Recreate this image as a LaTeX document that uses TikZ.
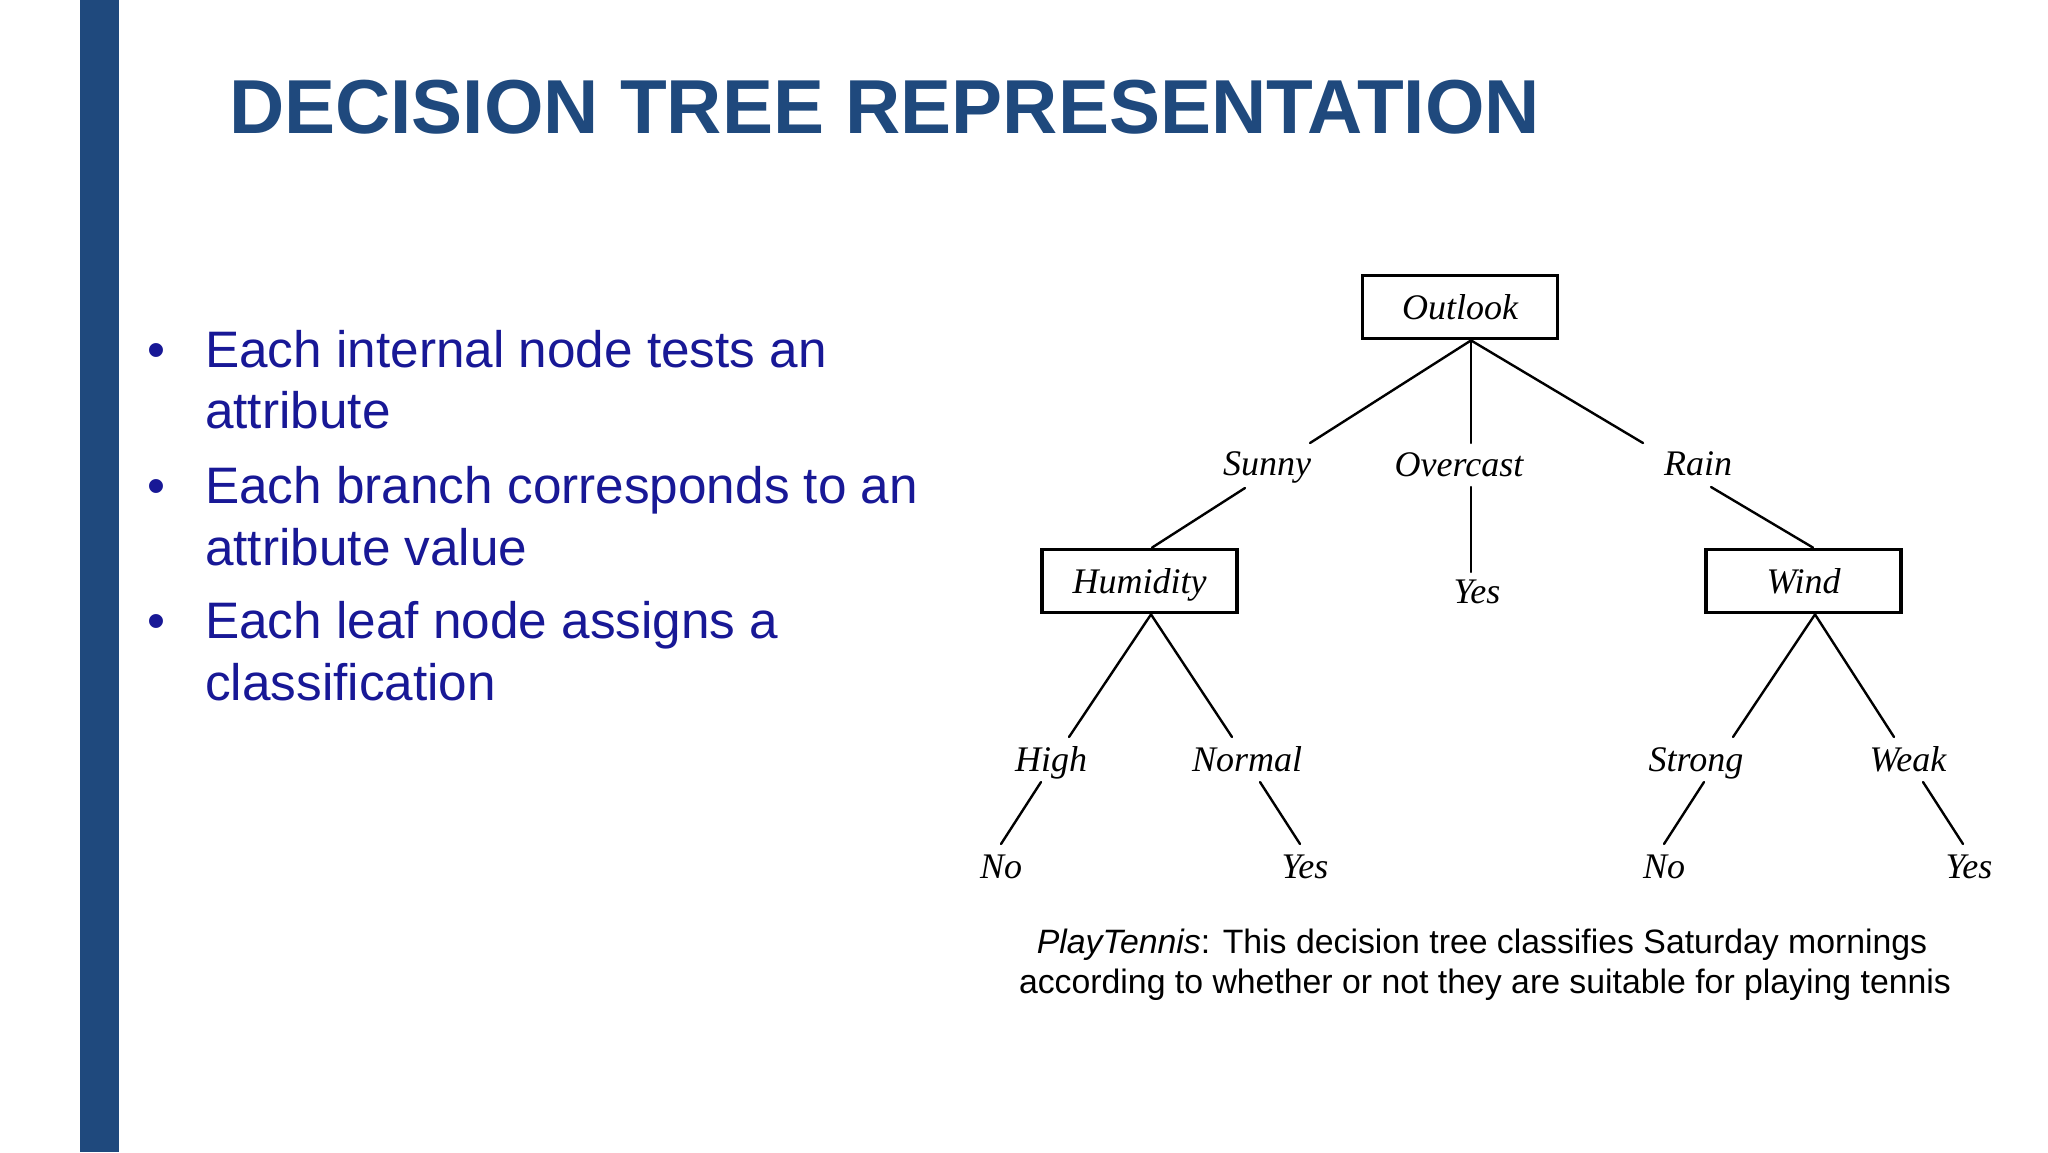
\documentclass[tikz,border=0pt]{standalone}
\usepackage{fontspec}
\setmainfont{Liberation Serif}
\newfontfamily\arialf{Liberation Sans}
\usetikzlibrary{calc}
\definecolor{titleblue}{RGB}{31,73,125}
\definecolor{bulletblue}{RGB}{24,24,150}
\begin{document}
\begin{tikzpicture}[x=1pt,y=-1pt,
  attrbox/.style={draw=black,line width=3.8pt,minimum width=195pt,minimum height=63pt,inner sep=0pt,
    text height=24pt,text depth=0pt,font=\fontsize{36}{40}\selectfont\itshape},
  lbl/.style={anchor=base,inner sep=0pt,font=\fontsize{36}{40}\selectfont\itshape},
  branch/.style={line width=2.4pt,line cap=round},
  bullettext/.style={anchor=base west,inner sep=0pt,text=bulletblue,font=\arialf\fontsize{51.3}{56}\selectfont},
  captext/.style={anchor=base,inner sep=0pt,font=\arialf\fontsize{33.8}{38}\selectfont}]
\useasboundingbox (0,0) rectangle (2048,1152);
\fill[white] (0,0) rectangle (2048,1152);
% side bar
\fill[titleblue] (80,0) rectangle (119,1152);
% title
\node[anchor=base west,inner sep=0pt,text=titleblue,font=\arialf\bfseries\fontsize{76.5}{80}\selectfont]
  (title) at (229,133) {DECISION TREE REPRESENTATION};
% bullets
\node[bullettext] (d1) at (147,367) {•};
\node[bullettext] (b1a) at (205,367) {Each internal node tests an};
\node[bullettext] (b1b) at (205,428) {attribute};
\node[bullettext] (d2) at (147,503) {•};
\node[bullettext] (b2a) at (205,503) {Each branch corresponds to an};
\node[bullettext] (b2b) at (205,565) {attribute value};
\node[bullettext] (d3) at (147,638) {•};
\node[bullettext] (b3a) at (205,638) {Each leaf node assigns a};
\node[bullettext] (b3b) at (205,700) {classification};
% tree nodes
\node[attrbox] (outlook) at (1460,307) {Outlook};
\node[attrbox] (humidity) at (1139.5,581) {Humidity};
\node[attrbox] (wind) at (1803.5,581) {Wind};
\node[lbl] (sunny) at (1267,475) {Sunny};
\node[lbl] (overcast) at (1459,476) {Overcast};
\node[lbl] (rain) at (1698,475) {Rain};
\node[lbl] (yeso) at (1477,603) {Yes};
\node[lbl] (high) at (1051,771) {High};
\node[lbl] (normal) at (1247,771) {Normal};
\node[lbl] (noh) at (1001,878) {No};
\node[lbl] (yesn) at (1305,878) {Yes};
\node[lbl] (strong) at (1696,771) {Strong};
\node[lbl] (weak) at (1908,771) {Weak};
\node[lbl] (nos) at (1664,878) {No};
\node[lbl] (yesw) at (1969,878) {Yes};
% branches
\draw[branch] ($(outlook.south)+(11,0)$) -- ($(sunny.base)+(43,-32)$);
\draw[branch] ($(outlook.south)+(11,0)$) -- ($(overcast.base)+(12,-33)$);
\draw[branch] ($(outlook.south)+(11,0)$) -- ($(rain.base)+(-55,-32)$);
\draw[branch] ($(sunny.base)+(-22,13)$) -- ($(humidity.north)+(12.5,0)$);
\draw[branch] ($(overcast.base)+(12,11)$) -- ($(yeso.base)+(-6,-31)$);
\draw[branch] ($(rain.base)+(13,12)$) -- ($(wind.north)+(9.5,0)$);
\draw[branch] ($(humidity.south)+(11.5,0)$) -- ($(high.base)+(18,-34)$);
\draw[branch] ($(humidity.south)+(11.5,0)$) -- ($(normal.base)+(-15,-34)$);
\draw[branch] ($(high.base)+(-10,11)$) -- ($(noh.base)+(0,-34)$);
\draw[branch] ($(normal.base)+(13,11)$) -- ($(yesn.base)+(-5,-34)$);
\draw[branch] ($(wind.south)+(11.5,0)$) -- ($(strong.base)+(37,-34)$);
\draw[branch] ($(wind.south)+(11.5,0)$) -- ($(weak.base)+(-14,-34)$);
\draw[branch] ($(strong.base)+(8,11)$) -- ($(nos.base)+(0,-34)$);
\draw[branch] ($(weak.base)+(15,11)$) -- ($(yesw.base)+(-6,-34)$);
% caption
\node[captext] (cap1) at (1482,953) {\textit{PlayTennis}: This decision tree classifies Saturday mornings};
\node[captext] (cap2) at (1485,993) {according to whether or not they are suitable for playing tennis};
\end{tikzpicture}
\end{document}
